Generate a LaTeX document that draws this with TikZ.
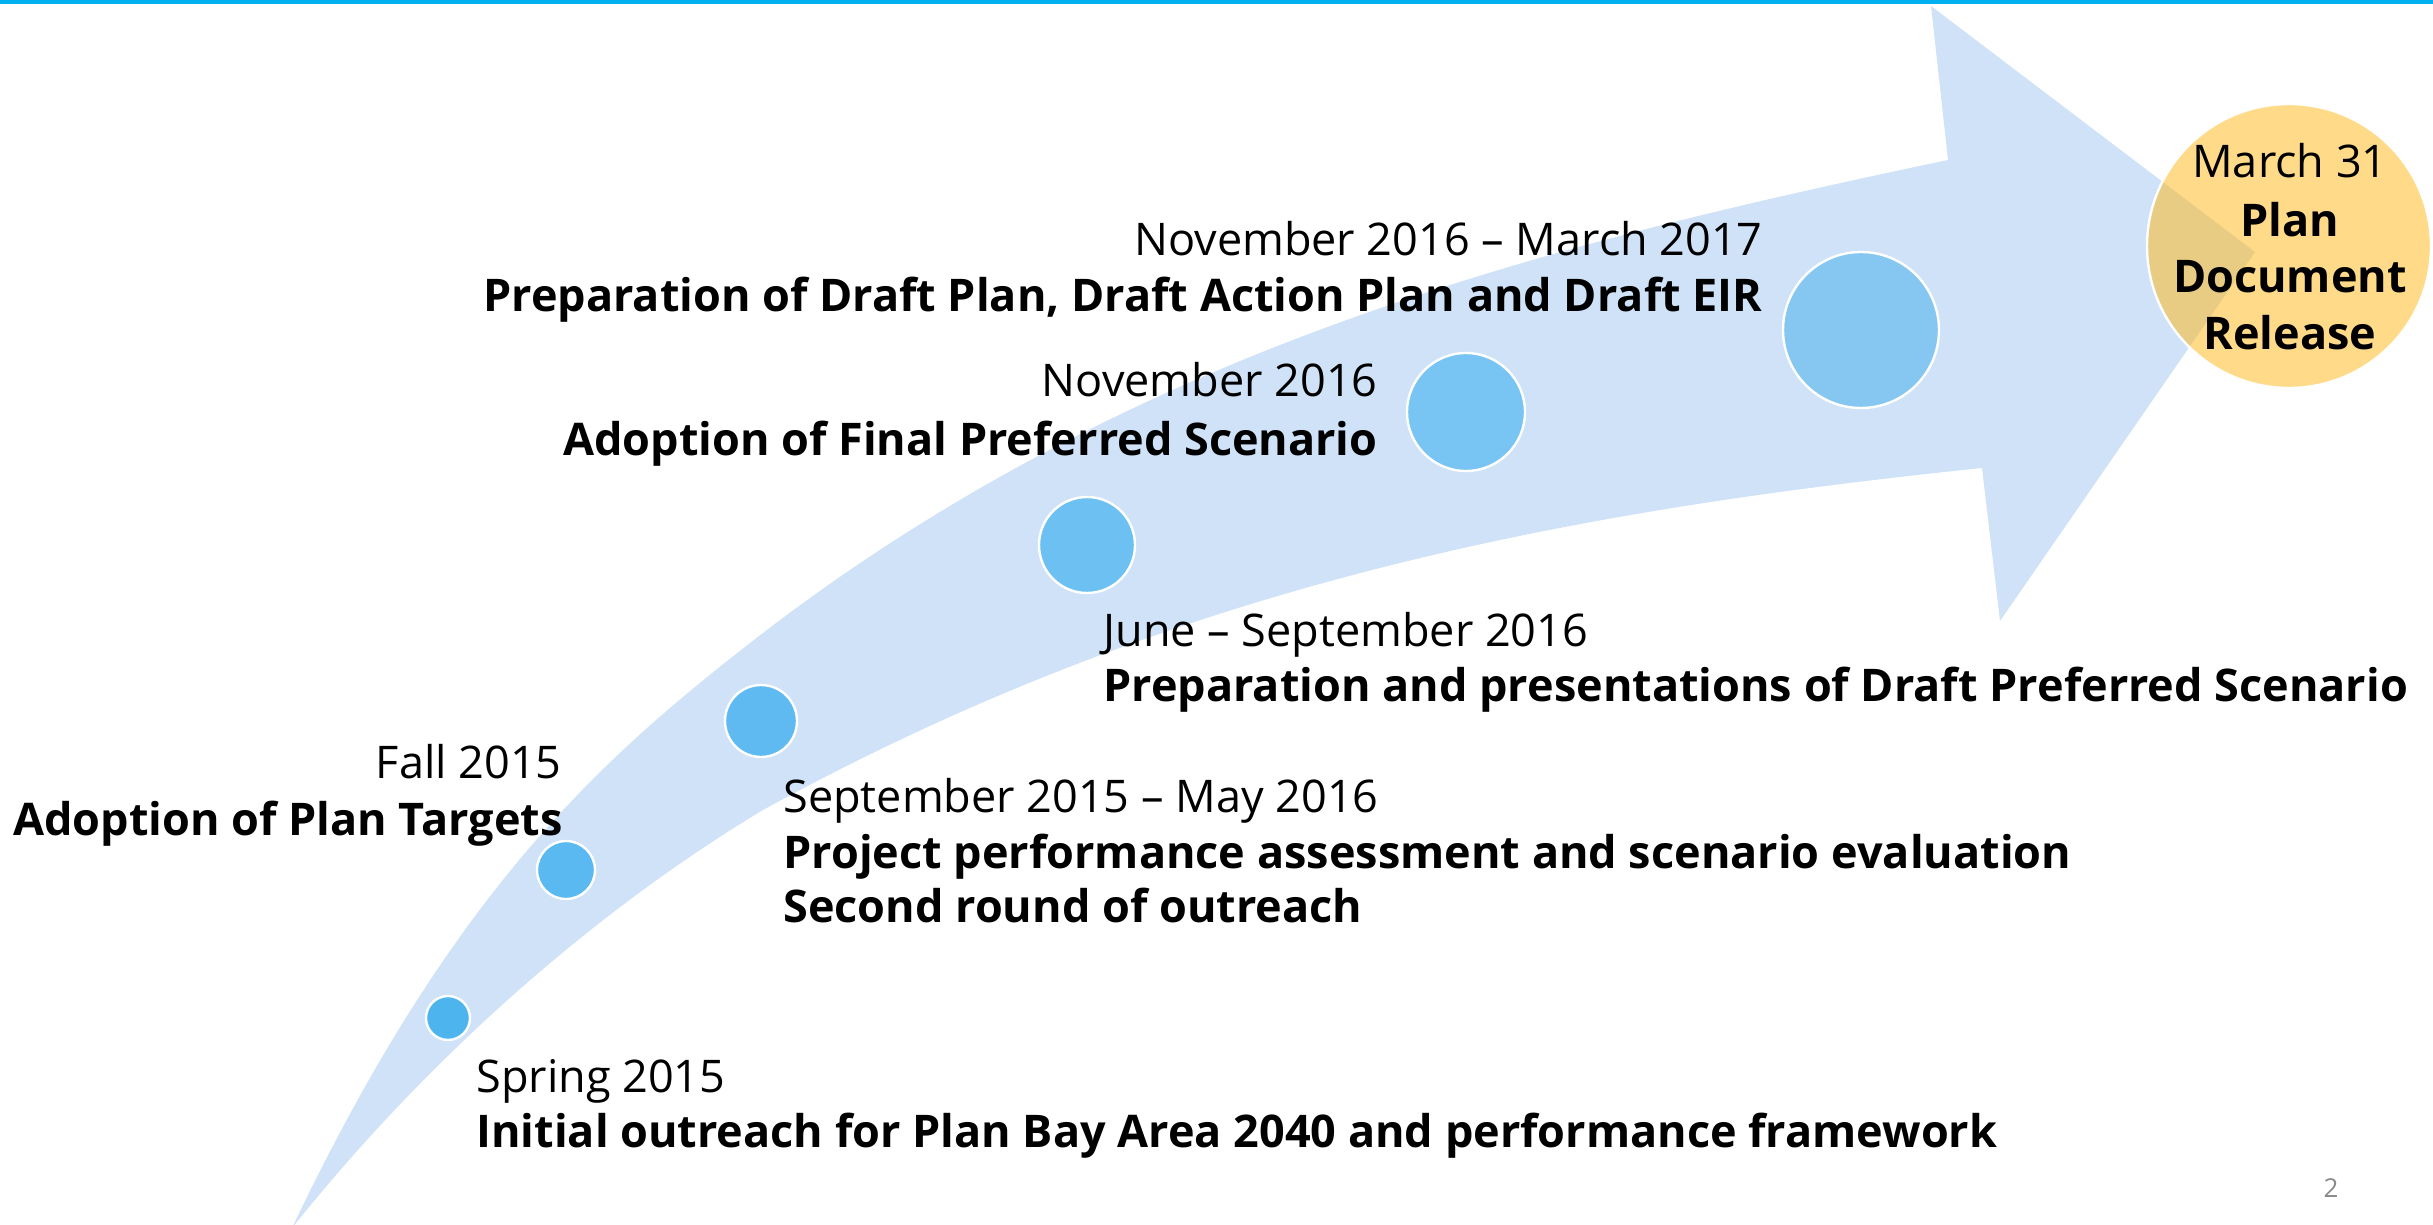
\documentclass[tikz,border=0pt]{standalone}
\usepackage{fontspec}
\setmainfont{Open Sans}
\definecolor{topline}{RGB}{0,176,240}
\definecolor{arrowblue}{RGB}{207,226,248}
\definecolor{dotA}{RGB}{78,180,238}
\definecolor{dotB}{RGB}{90,185,240}
\definecolor{dotC}{RGB}{94,186,241}
\definecolor{dotD}{RGB}{108,192,242}
\definecolor{dotE}{RGB}{120,196,242}
\definecolor{dotF}{RGB}{134,199,242}
\definecolor{goal}{RGB}{255,184,26}
\definecolor{pagenum}{RGB}{137,137,137}
\begin{document}
\begin{tikzpicture}[x=0.5pt,y=-0.5pt,
  lbl/.style={inner sep=0pt, font=\fontsize{22.5pt}{27pt}\selectfont},
  lblb/.style={inner sep=0pt, font=\fontsize{22.5pt}{27pt}\selectfont\bfseries},
  dot/.style={circle, draw=white, line width=1.2pt, inner sep=0pt}]
\useasboundingbox (0,0) rectangle (2433,1225);
\clip (0,0) rectangle (2433,1225);
% top rule
\fill[topline] (0,0) rectangle (2433,4);
% curved arrow
\coordinate (tail) at (292,1228);
\coordinate (umid) at (750,643);
\coordinate (uend) at (1948,160);
\coordinate (htop) at (1931,6);
\coordinate (htip) at (2255,252);
\coordinate (hbot) at (2000,621);
\coordinate (lend) at (1982,468);
\coordinate (lmid) at (763,810);
\fill[arrowblue] (tail) .. controls (452,892) and (600,760) .. (umid)
  .. controls (1130,346.6) and (1548,244) .. (uend)
  -- (htop) -- (htip) -- (hbot) -- (lend)
  .. controls (1582,509.6) and (1183,579) .. (lmid)
  .. controls (613,900) and (442,1040.5) .. (tail) -- cycle;
% milestones
\node[dot, fill=dotA, minimum size=22pt] (c1) at (448,1018) {};
\node[dot, fill=dotB, minimum size=29pt] (c2) at (566,870) {};
\node[dot, fill=dotC, minimum size=36pt] (c3) at (761,721) {};
\node[dot, fill=dotD, minimum size=48pt] (c4) at (1087,545) {};
\node[dot, fill=dotE, minimum size=59pt] (c5) at (1466,412) {};
\node[dot, fill=dotF, minimum size=78pt] (c6) at (1861,330) {};
\node[circle, fill=goal, fill opacity=0.52, draw=white, draw opacity=1, line width=1.2pt, minimum size=142pt, inner sep=0pt] (goalc) at (2289,246) {};
% labels
\node[lbl, anchor=base west] (t1a) at (476,1092) {Spring 2015};
\node[lblb, anchor=base west] (t1b) at (476,1147) {Initial outreach for Plan Bay Area 2040 and performance framework};
\node[lbl, anchor=base east] (t2a) at (562,778) {Fall 2015};
\node[lblb, anchor=base east] (t2b) at (563,835) {Adoption of Plan Targets};
\node[lbl, anchor=base west] (t3a) at (783,812) {September 2015 – May 2016};
\node[lblb, anchor=base west] (t3b) at (783,868) {Project performance assessment and scenario evaluation};
\node[lblb, anchor=base west] (t3c) at (783,922) {Second round of outreach};
\node[lbl, anchor=base west] (t4a) at (1103,646) {June – September 2016};
\node[lblb, anchor=base west] (t4b) at (1103,701) {Preparation and presentations of Draft Preferred Scenario};
\node[lbl, anchor=base east] (t5a) at (1378,397) {November 2016};
\node[lblb, anchor=base east] (t5b) at (1378,455) {Adoption of Final Preferred Scenario};
\node[lbl, anchor=base east] (t6a) at (1763,256) {November 2016 – March 2017};
\node[lblb, anchor=base east] (t6b) at (1763,312) {Preparation of Draft Plan, Draft Action Plan and Draft EIR};
\node[lbl, anchor=base] (m1) at (2290,178) {March 31};
\node[lblb, anchor=base] (m2) at (2290,237) {Plan};
\node[lblb, anchor=base] (m3) at (2290,293) {Document};
\node[lblb, anchor=base] (m4) at (2290,350) {Release};
\node[inner sep=0pt, anchor=base, text=pagenum, font=\fontsize{13pt}{15pt}\selectfont] (pg) at (2331,1197) {2};
\end{tikzpicture}
\end{document}
